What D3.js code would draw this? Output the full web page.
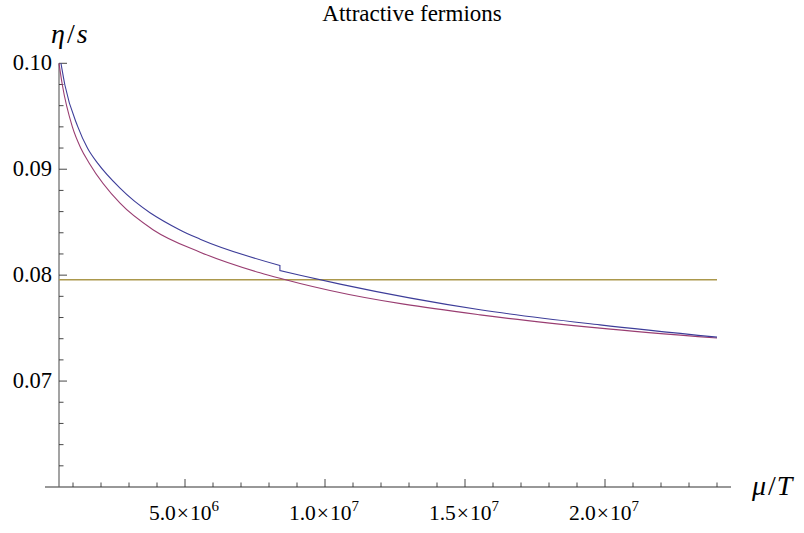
<!DOCTYPE html>
<html>
<head>
<meta charset="utf-8">
<script src="https://cdn.jsdelivr.net/npm/d3@7"></script>
<style>
  html, body { margin: 0; padding: 0; background: #fff; }
  svg { display: block; }
  text { font-family: "Liberation Serif", "DejaVu Serif", serif; fill: #000; }
</style>
</head>
<body>
<svg id="chart" width="804" height="533"></svg>
<script>
// ---- data (x in units of 1e6, i.e. mu/T / 10^6) ----
const blueX1 = [0.57, 0.71, 1.17, 1.52, 1.90, 2.68, 4.82, 5.54, 8.39];
const blueY1 = [0.1000, 0.09795, 0.09402, 0.09198, 0.09050, 0.08821, 0.08427, 0.08340, 0.08091];
const blueX2 = [8.39, 9.11, 10.54, 15.54, 19.82, 24.0];
const blueY2 = [0.08043, 0.07999, 0.07915, 0.07673, 0.07531, 0.07415];
const redX = [0.5, 0.62, 0.975, 1.28, 1.58, 2.68, 3.87, 5.54, 7.68, 8.39, 9.11, 10.18, 15.54, 19.82, 24.0];
const redY = [0.1000, 0.09795, 0.09402, 0.09198, 0.09057, 0.08679, 0.08427, 0.08217, 0.08022, 0.07970, 0.07921, 0.07855, 0.07625, 0.07500, 0.07406];
const boundValue = 1 / (4 * Math.PI);   // KSS bound
const boundX = [0.5, 24.0];
const xMajorTicks = [5, 10, 15, 20];
const xTickMantissa = ["5.0", "1.0", "1.5", "2.0"];
const xTickExponent = ["6", "7", "7", "7"];
const yMajorTicks = [0.07, 0.08, 0.09, 0.10];
const yTickLabels = ["0.07", "0.08", "0.09", "0.10"];
const titleText = "Attractive  fermions";

// ---- layout ----
const svg = d3.select("#chart");
const x = d3.scaleLinear().domain([0, 24.5]).range([45, 731]);
const y = d3.scaleLinear().domain([0.06, 0.10]).range([487, 63.3]);
const xOrigin = 0.5;
const axisColor = "#333";

const colors = { blue: "#3d3d99", red: "#993d71", gold: "#ab984c" };

// title
svg.append("text").attr("x", 412).attr("y", 21).attr("text-anchor", "middle")
  .attr("font-size", 23).text(titleText);

// x axis line
svg.append("line").attr("x1", x(0)).attr("x2", x(24.5))
  .attr("y1", y(0.06)).attr("y2", y(0.06))
  .attr("stroke", axisColor).attr("stroke-width", 1.2);
// y axis line
svg.append("line").attr("x1", x(xOrigin)).attr("x2", x(xOrigin))
  .attr("y1", y(0.06)).attr("y2", y(0.10))
  .attr("stroke", "#666").attr("stroke-width", 1.2);

// x ticks
const xMinor = d3.range(1, 25, 1).filter(v => v % 5 !== 0);
svg.append("g").selectAll("line").data(xMinor).join("line")
  .attr("x1", d => x(d)).attr("x2", d => x(d))
  .attr("y1", y(0.06)).attr("y2", y(0.06) - 4.5)
  .attr("stroke", axisColor).attr("stroke-width", 0.9);
svg.append("g").selectAll("line").data(xMajorTicks).join("line")
  .attr("x1", d => x(d)).attr("x2", d => x(d))
  .attr("y1", y(0.06)).attr("y2", y(0.06) - 8)
  .attr("stroke", axisColor).attr("stroke-width", 0.9);
const xl = svg.append("g").selectAll("text").data(xMajorTicks).join("text")
  .attr("x", d => x(d) - 1).attr("y", 520).attr("text-anchor", "middle")
  .attr("font-size", 21.5);
xl.each(function(d, i) {
  const t = d3.select(this);
  t.append("tspan").text(xTickMantissa[i]);
  t.append("tspan").attr("dx", 1).text("\u00d7");
  t.append("tspan").attr("dx", 1).text("10");
  t.append("tspan").attr("dy", -9).attr("font-size", 15).text(xTickExponent[i]);
});

// y ticks
const yMinor = d3.range(0.062, 0.0999, 0.002).filter(v => Math.abs(v * 100 - Math.round(v * 100)) > 1e-6);
svg.append("g").selectAll("line").data(yMinor).join("line")
  .attr("x1", x(xOrigin)).attr("x2", x(xOrigin) + 4.5)
  .attr("y1", d => y(d)).attr("y2", d => y(d))
  .attr("stroke", axisColor).attr("stroke-width", 0.9);
svg.append("g").selectAll("line").data(yMajorTicks).join("line")
  .attr("x1", x(xOrigin)).attr("x2", x(xOrigin) + 8)
  .attr("y1", d => y(d)).attr("y2", d => y(d))
  .attr("stroke", axisColor).attr("stroke-width", 0.9);
svg.append("g").selectAll("text").data(yMajorTicks).join("text")
  .attr("x", 52).attr("y", d => y(d) + 7).attr("text-anchor", "end")
  .attr("font-size", 22.5).text((d, i) => yTickLabels[i]);

// axis labels
const yLab = svg.append("text").attr("x", 51).attr("y", 43).attr("font-size", 28);
yLab.append("tspan").attr("font-style", "italic").text("\u03b7");
yLab.append("tspan").attr("dx", 2).text("/");
yLab.append("tspan").attr("dx", 2).attr("font-style", "italic").text("s");
const xLab = svg.append("text").attr("x", 752).attr("y", 495).attr("font-size", 28);
xLab.append("tspan").attr("font-style", "italic").text("\u03bc");
xLab.append("tspan").attr("dx", 2).text("/");
xLab.append("tspan").attr("dx", 1).attr("font-style", "italic").text("T");

// curves
const line = d3.line().x(d => x(d[0])).y(d => y(d[1])).curve(d3.curveMonotoneX);
const zip = (a, b) => a.map((v, i) => [v, b[i]]);

svg.append("path")
  .attr("d", d3.line().x(d => x(d)).y(() => y(boundValue))(boundX))
  .attr("fill", "none").attr("stroke", colors.gold).attr("stroke-width", 1.5);

svg.append("path").attr("d", line(zip(redX, redY)))
  .attr("fill", "none").attr("stroke", colors.red).attr("stroke-width", 1.1);

const bluePath = line(zip(blueX1, blueY1)) + line(zip(blueX2, blueY2)).replace(/^M/, "L");
svg.append("path").attr("d", bluePath)
  .attr("fill", "none").attr("stroke", colors.blue).attr("stroke-width", 1.1);
</script>
</body>
</html>
